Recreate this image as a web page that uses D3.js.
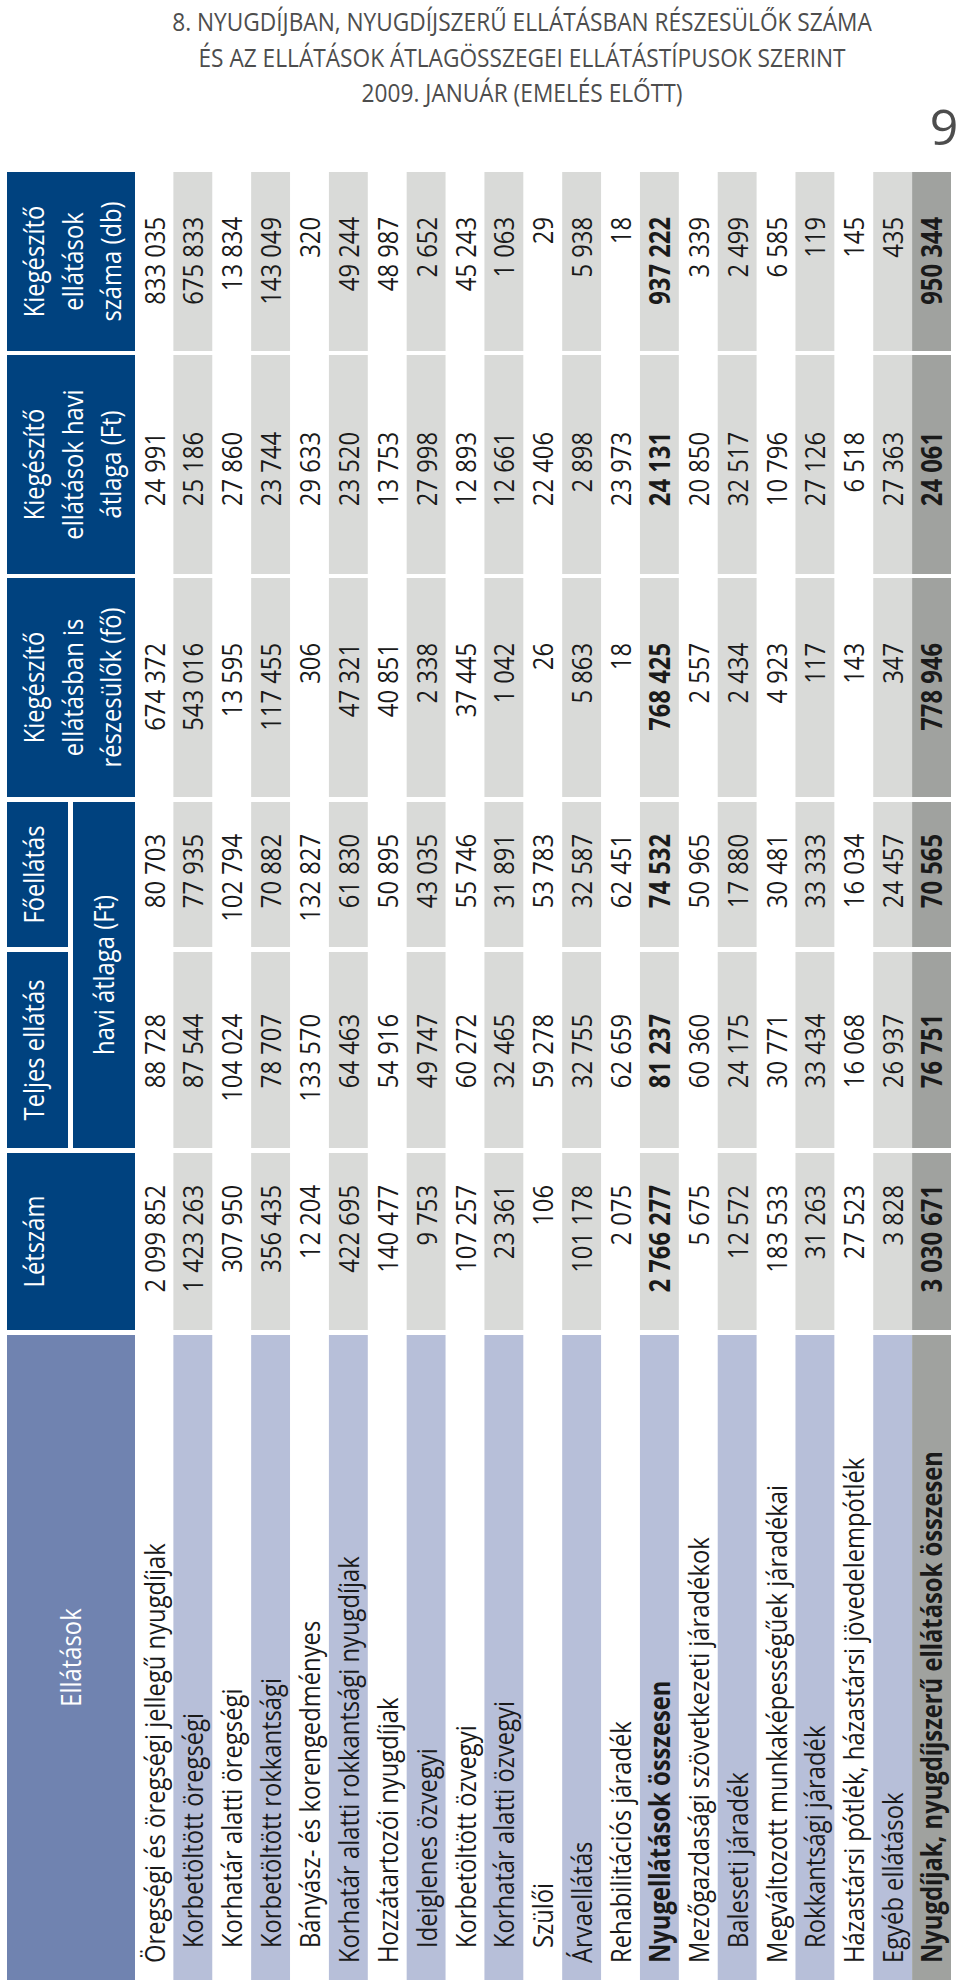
<!DOCTYPE html>
<html>
<head>
<meta charset="utf-8">
<script src="https://cdn.jsdelivr.net/npm/d3@7"></script>
<style>
  body { margin: 0; background: #fff; }
  svg { display: block; }
  text { font-family: "Open Sans", "Noto Sans", sans-serif; }
</style>
</head>
<body>
<div id="chart"></div>
<script>
// title and page number
const titleLines = [
  '8. NYUGDÍJBAN, NYUGDÍJSZERŰ ELLÁTÁSBAN RÉSZESÜLŐK SZÁMA',
  'ÉS AZ ELLÁTÁSOK ÁTLAGÖSSZEGEI ELLÁTÁSTÍPUSOK SZERINT',
  '2009. JANUÁR (EMELÉS ELŐTT)'
];
const pageNo = '9';

// table rows
const rowLabels = [
  'Öregségi és öregségi jellegű nyugdíjak',
  'Korbetöltött öregségi',
  'Korhatár alatti öregségi',
  'Korbetöltött rokkantsági',
  'Bányász- és korengedményes',
  'Korhatár alatti rokkantsági nyugdíjak',
  'Hozzátartozói nyugdíjak',
  'Ideiglenes özvegyi',
  'Korbetöltött özvegyi',
  'Korhatár alatti özvegyi',
  'Szülői',
  'Árvaellátás',
  'Rehabilitációs járadék',
  'Nyugellátások összesen',
  'Mezőgazdasági szövetkezeti járadékok',
  'Baleseti járadék',
  'Megváltozott munkaképességűek járadékai',
  'Rokkantsági járadék',
  'Házastársi pótlék, házastársi jövedelempótlék',
  'Egyéb ellátások',
  'Nyugdíjak, nyugdíjszerű ellátások összesen'
];
const indentedRows = [1, 2, 3, 4, 7, 8, 9, 10, 15, 17];
const boldRows = [13, 20];

// series values
const letszam       = [2099852, 1423263, 307950, 356435, 12204, 422695, 140477, 9753, 107257, 23361, 106, 101178, 2075, 2766277, 5675, 12572, 183533, 31263, 27523, 3828, 3030671];
const teljesAtlag   = [88728, 87544, 104024, 78707, 133570, 64463, 54916, 49747, 60272, 32465, 59278, 32755, 62659, 81237, 60360, 24175, 30771, 33434, 16068, 26937, 76751];
const foellatasAtl  = [80703, 77935, 102794, 70882, 132827, 61830, 50895, 43035, 55746, 31891, 53783, 32587, 62451, 74532, 50965, 17880, 30481, 33333, 16034, 24457, 70565];
const kiegReszes    = [674372, 543016, 13595, 117455, 306, 47321, 40851, 2338, 37445, 1042, 26, 5863, 18, 768425, 2557, 2434, 4923, 117, 143, 347, 778946];
const kiegAtlag     = [24991, 25186, 27860, 23744, 29633, 23520, 13753, 27998, 12893, 12661, 22406, 2898, 23973, 24131, 20850, 32517, 10796, 27126, 6518, 27363, 24061];
const kiegSzam      = [833035, 675833, 13834, 143049, 320, 49244, 48987, 2652, 45243, 1063, 29, 5938, 18, 937222, 3339, 2499, 6585, 119, 145, 435, 950344];

// column headers
const labelHeader = 'Ellátások';
const colKeys = ['letszam', 'teljes', 'fo', 'reszes', 'atlag', 'szam'];
const colHeaderLines = [
  ['Létszám'],
  ['Teljes ellátás'],
  ['Főellátás'],
  ['Kiegészítő', 'ellátásban is', 'részesülők (fő)'],
  ['Kiegészítő', 'ellátások havi', 'átlaga (Ft)'],
  ['Kiegészítő', 'ellátások', 'száma (db)']
];
const sharedHeader = 'havi átlaga (Ft)';
const colValues = [letszam, teljesAtlag, foellatasAtl, kiegReszes, kiegAtlag, kiegSzam];

// page
const W = 960, H = 1984;
const svg = d3.select('#chart').append('svg')
  .attr('width', W)
  .attr('height', H);

const fmt = d3.formatLocale({ decimal: ',', thousands: ' ', grouping: [3], currency: ['', ''] }).format(',d');

const colors = {
  head: '#00427f',
  labelHead: '#7083b0',
  labelShade: '#b7bfd9',
  shade: '#d9dad8',
  total: '#a0a29f',
  text: '#1a1a1a',
  title: '#4d4d4d'
};

// measure helper, to squeeze the regular face into the narrow look of the original
function measure(str, size, weight) {
  const t = svg.append('text')
    .attr('font-size', size)
    .attr('font-weight', weight || 400)
    .text(str);
  const w = t.node().getComputedTextLength();
  t.remove();
  return w;
}

const bodySize = 28;
const bodySx = 420 / measure(rowLabels[0], bodySize);
const titleSize = 26;
const titleSx = 700 / measure(titleLines[0], titleSize);

function addText(parent, x, y, str, o) {
  const g = parent.append('g').attr('transform', `translate(${x},${y})`);
  return g.append('text')
    .attr('transform', `scale(${o.sx},1)`)
    .attr('text-anchor', o.anchor || 'start')
    .attr('font-size', o.size)
    .attr('font-weight', o.weight || 400)
    .attr('fill', o.fill || colors.text)
    .text(str);
}

// title
titleLines.forEach((line, i) => {
  addText(svg, 522, 31 + i * 35.5, line, { sx: titleSx, size: titleSize, anchor: 'middle', fill: colors.title });
});
svg.append('text')
  .attr('x', 944)
  .attr('y', 145)
  .attr('text-anchor', 'middle')
  .attr('font-size', 50)
  .attr('fill', colors.title)
  .text(pageNo);

// table drawn unrotated, then turned to read bottom to top
const table = svg.append('g')
  .attr('transform', `translate(0,${H}) rotate(-90)`);

// u = reading direction, v = down the rows
const labelCol = [4, 649];
const colRange = d3.scaleOrdinal()
  .domain(colKeys)
  .range([[654, 831], [836, 1032], [1037, 1182], [1187, 1406], [1410, 1629], [1633, 1812]]);
const numEnd = d3.scaleOrdinal()
  .domain(colKeys)
  .range([799, 970, 1150, 1341, 1552, 1767]);

const y = d3.scaleBand()
  .domain(d3.range(rowLabels.length))
  .range([134.5, 951])
  .padding(0);

const headTop = 7, headBottom = 135, headSplit = 68, headSplit2 = 73;

// header blocks
table.append('rect')
  .attr('x', labelCol[0]).attr('y', headTop)
  .attr('width', labelCol[1] - labelCol[0]).attr('height', headBottom - headTop)
  .attr('fill', colors.labelHead);
addText(table, (labelCol[0] + labelCol[1]) / 2, 81, labelHeader,
  { sx: bodySx, size: bodySize, anchor: 'middle', fill: '#fff' });

colKeys.forEach((k, i) => {
  const r = colRange(k);
  const split = (k === 'teljes' || k === 'fo');
  table.append('rect')
    .attr('x', r[0]).attr('y', headTop)
    .attr('width', r[1] - r[0])
    .attr('height', (split ? headSplit : headBottom) - headTop)
    .attr('fill', colors.head);
  colHeaderLines[i].forEach((line, j) => {
    addText(table, (r[0] + r[1]) / 2, 44 + j * 38.5, line,
      { sx: bodySx, size: bodySize, anchor: 'middle', fill: '#fff' });
  });
});

// shared "havi átlaga" header under Teljes ellátás / Főellátás
const sh0 = colRange('teljes')[0], sh1 = colRange('fo')[1];
table.append('rect')
  .attr('x', sh0).attr('y', headSplit2)
  .attr('width', sh1 - sh0).attr('height', headBottom - headSplit2)
  .attr('fill', colors.head);
addText(table, (sh0 + sh1) / 2, 114, sharedHeader,
  { sx: bodySx, size: bodySize, anchor: 'middle', fill: '#fff' });

// row shading
const rows = table.selectAll('g.row')
  .data(rowLabels.map((label, i) => ({ label, i })))
  .enter()
  .append('g')
  .attr('class', 'row');

rows.filter(d => d.i % 2 === 1 || d.i === 20)
  .each(function (d) {
    const g = d3.select(this);
    const isTotal = d.i === 20;
    g.append('rect')
      .attr('x', labelCol[0]).attr('y', y(d.i))
      .attr('width', labelCol[1] - labelCol[0]).attr('height', y.bandwidth())
      .attr('fill', isTotal ? colors.total : colors.labelShade);
    colKeys.forEach(k => {
      const r = colRange(k);
      g.append('rect')
        .attr('x', r[0]).attr('y', y(d.i))
        .attr('width', r[1] - r[0]).attr('height', y.bandwidth())
        .attr('fill', isTotal ? colors.total : colors.shade);
    });
  });

// labels and values
rows.each(function (d) {
  const g = d3.select(this);
  const weight = boldRows.includes(d.i) ? 700 : 400;
  const base = y(d.i) + 30;
  const startU = indentedRows.includes(d.i) ? 36 : 21;
  addText(g, startU, base, d.label, { sx: bodySx, size: bodySize, weight });
  colKeys.forEach((k, ci) => {
    addText(g, numEnd(k), base, fmt(colValues[ci][d.i]),
      { sx: bodySx, size: bodySize, weight, anchor: 'end' });
  });
});
</script>
</body>
</html>
